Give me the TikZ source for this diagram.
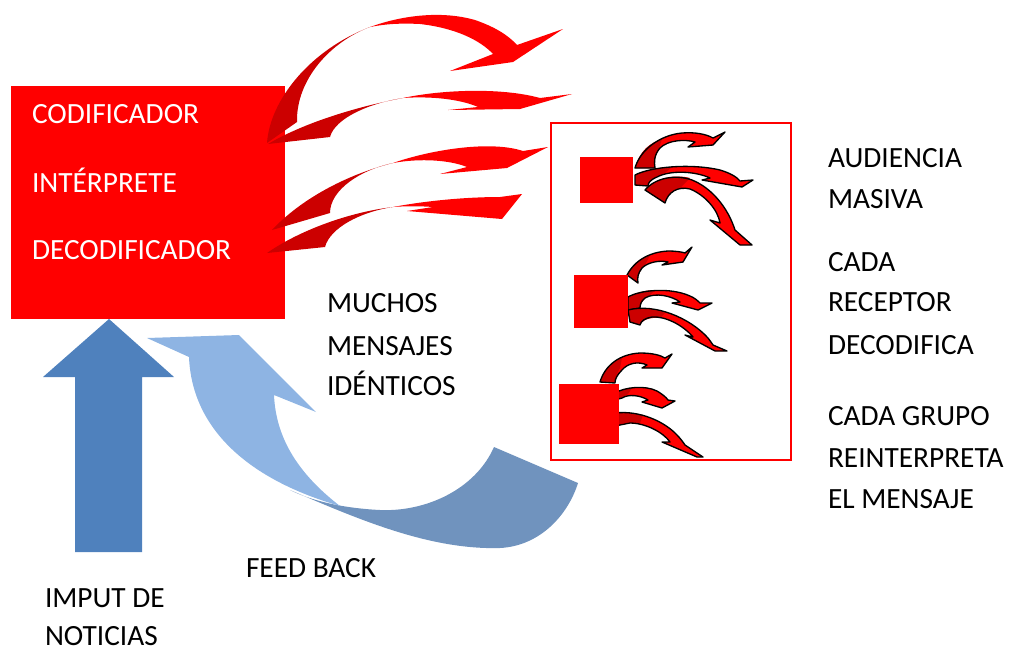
\documentclass[tikz,border=0pt]{standalone}
\usepackage{fontspec}
\setmainfont{Carlito}
\definecolor{rdark}{HTML}{CC0000}
\definecolor{rbright}{HTML}{FF0000}
\definecolor{inblue}{HTML}{4F81BD}
\definecolor{fblight}{HTML}{8EB4E3}
\definecolor{fbdark}{HTML}{7093BE}
\begin{document}
\begin{tikzpicture}[x=0.75pt,y=-0.75pt,
  txt/.style={font=\fontsize{22pt}{26pt}\selectfont, anchor=base west, inner sep=0pt, outer sep=0pt, text depth=0pt},
  wtxt/.style={txt, text=white},
  bright/.style={fill=rbright},
  darkpart/.style={fill=rdark},
  outline/.style={draw=black, line width=1pt, line join=round},
  sq/.style={fill=rbright}]
\useasboundingbox (0,0) rectangle (1013,651);

% ---------- main red box ----------
\fill[rbright] (11,86) rectangle (285,319);
\node[wtxt] (cod) at (32,123) {CODIFICADOR};
\node[wtxt] (int) at (32,192) {INTÉRPRETE};
\node[wtxt] (dec) at (32,259) {DECODIFICADOR};

% ---------- big red arrows ----------
% arrow 4
\fill[darkpart] (267,253) .. controls (300,230) and (350,212) .. (393,207) .. controls (360,212) and (330,228) .. (325,247) -- cycle;
\fill[bright] (393,207) .. controls (430,200) and (470,197) .. (500,197) -- (522,194) -- (502,219) -- (407,211) -- (433,207) .. controls (420,206) and (405,206) .. (393,207) -- cycle;
% arrow 3
\fill[darkpart] (272,230) .. controls (300,200) and (345,175) .. (393,163) .. controls (360,170) and (330,190) .. (330,213) -- cycle;
\fill[bright] (393,163) .. controls (430,150) and (490,140) .. (523,151) -- (548,147) -- (507,168) -- (440,174) -- (467,167) .. controls (450,160) and (420,158) .. (393,163) -- cycle;
% arrow 2
\fill[darkpart] (268,144) .. controls (300,125) and (350,108) .. (403,98) .. controls (370,103) and (335,118) .. (330,137) -- cycle;
\fill[bright] (403,98) .. controls (440,90) and (500,87) .. (540,98) -- (572,94) -- (520,109) -- (448,110) -- (478,107) .. controls (460,99) and (430,96) .. (403,98) -- cycle;
% arrow 1
\fill[darkpart] (267,143) .. controls (270,100) and (310,50) .. (370,27) .. controls (330,42) and (296,80) .. (297,122) -- cycle;
\fill[bright] (370,27) .. controls (400,16) and (440,10) .. (475,20) .. controls (495,27) and (508,35) .. (517,45) -- (563,29) -- (513,62) -- (450,71) -- (493,54) .. controls (480,40) and (455,28) .. (420,24) .. controls (400,23) and (385,24) .. (370,27) -- cycle;

% ---------- receivers box ----------
\draw[rbright, line width=1.4pt] (551,123) rectangle (791,460);

% group 1
\def\aa{(635,168) .. controls (640,150) and (660,135) .. (682,133) .. controls (695,132) and (706,134) .. (713,138) -- (725,132) -- (713,145) -- (688,147) -- (695,142) .. controls (685,139) and (668,140) .. (660,148) .. controls (654,155) and (654,162) .. (655,168) -- cycle}
\fill[bright] \aa;
\fill[darkpart] (635,168) .. controls (640,150) and (650,143) .. (662,139) -- (658,151) .. controls (654,157) and (654,162) .. (655,168) -- cycle;
\draw[outline] \aa;
\def\ab{(635,175) .. controls (650,167) and (690,163) .. (720,170) .. controls (730,173) and (737,177) .. (740,181) -- (753,180) -- (742,187) -- (702,180) -- (710,178) .. controls (695,171) and (670,170) .. (657,177) .. controls (650,180) and (648,183) .. (648,186) -- (635,185) -- cycle}
\fill[bright] \ab;
\fill[darkpart] (635,175) .. controls (645,170) and (660,167) .. (672,167) -- (665,173) .. controls (655,176) and (649,181) .. (648,186) -- (635,185) -- cycle;
\draw[outline] \ab;
\def\ac{(645,190) .. controls (655,178) and (675,174) .. (692,180) .. controls (712,188) and (728,208) .. (735,230) -- (752,245) -- (740,245) -- (710,220) -- (720,223) .. controls (718,210) and (705,195) .. (690,189) .. controls (678,186) and (668,192) .. (665,203) -- cycle}
\fill[bright] \ac;
\fill[darkpart] (645,190) .. controls (655,178) and (675,174) .. (690,178) -- (680,188) .. controls (672,190) and (667,195) .. (665,203) -- cycle;
\draw[outline] \ac;

% group 2
\def\ba{(627,275) .. controls (635,260) and (650,252) .. (668,251) .. controls (676,251) and (682,252) .. (685,253) -- (692,247) -- (683,262) -- (662,265) -- (668,262) .. controls (660,260) and (648,262) .. (642,268) .. controls (638,273) and (637,278) .. (638,283) -- cycle}
\fill[bright] \ba;
\fill[darkpart] (627,275) .. controls (633,264) and (640,258) .. (650,255) -- (645,265) .. controls (639,271) and (637,278) .. (638,283) -- cycle;
\draw[outline] \ba;
\def\bb{(628,297) .. controls (640,290) and (670,287) .. (690,296) .. controls (695,298) and (698,301) .. (700,303) -- (712,303) -- (698,310) -- (672,303) -- (680,302) .. controls (672,296) and (655,292) .. (645,298) .. controls (641,301) and (640,305) .. (640,308) -- (628,310) -- cycle}
\fill[bright] \bb;
\fill[darkpart] (628,297) .. controls (635,293) and (645,290) .. (655,290) -- (650,295) .. controls (643,299) and (640,304) .. (640,308) -- (628,310) -- cycle;
\draw[outline] \bb;
\def\bc{(628,310) .. controls (655,303) and (690,318) .. (708,338) .. controls (710,341) and (712,343) .. (713,345) -- (727,351) -- (715,351) -- (685,335) -- (693,337) .. controls (683,325) and (665,316) .. (652,317) .. controls (645,318) and (641,321) .. (640,325) -- (630,322) -- cycle}
\fill[bright] \bc;
\fill[darkpart] (628,310) .. controls (640,308) and (655,309) .. (665,313) -- (660,318) .. controls (650,317) and (642,320) .. (640,325) -- (630,322) -- cycle;
\draw[outline] \bc;

% group 3
\def\ca{(600,382) .. controls (605,365) and (620,354) .. (640,353) .. controls (652,353) and (660,355) .. (665,358) -- (672,354) -- (662,368) -- (642,368) -- (647,365) .. controls (638,361) and (628,363) .. (622,370) .. controls (617,375) and (615,379) .. (615,383) -- cycle}
\fill[bright] \ca;
\fill[darkpart] (600,382) .. controls (604,370) and (612,362) .. (622,358) -- (620,368) .. controls (617,373) and (615,379) .. (615,383) -- cycle;
\draw[outline] \ca;
\def\cb{(615,393) .. controls (625,387) and (645,385) .. (657,391) .. controls (662,394) and (666,397) .. (668,400) -- (675,401) -- (662,408) -- (642,402) -- (648,400) .. controls (640,395) and (628,394) .. (622,398) -- (615,400) -- cycle}
\fill[bright] \cb;
\fill[darkpart] (615,393) .. controls (620,390) and (626,388) .. (632,388) -- (628,394) .. controls (624,396) and (622,397) .. (622,398) -- (615,400) -- cycle;
\draw[outline] \cb;
\def\cc{(615,413) .. controls (640,410) and (665,422) .. (677,435) .. controls (680,438) and (683,442) .. (685,445) -- (703,457) -- (697,457) -- (662,442) -- (670,442) .. controls (663,432) and (645,423) .. (630,423) -- (615,426) -- cycle}
\fill[bright] \cc;
\fill[darkpart] (615,413) .. controls (625,412) and (635,413) .. (643,415) -- (640,423) .. controls (633,422) and (625,422) .. (615,426) -- cycle;
\draw[outline] \cc;

% receiver squares
\fill[sq] (580,157) rectangle (633,203);
\fill[sq] (574,275) rectangle (628,328);
\fill[sq] (559,384) rectangle (619,444);

% ---------- input arrow ----------
\fill[inblue] (75,552) -- (75,377) -- (43,377) -- (109,319) -- (174,377) -- (142,377) -- (142,552) -- cycle;

% ---------- feedback arrow ----------
\fill[fbdark] (290,490) .. controls (360,520) and (430,550) .. (500,548) .. controls (540,546) and (568,515) .. (578,483) -- (494,447) .. controls (475,490) and (425,512) .. (380,510) .. controls (340,508) and (310,500) .. (290,490) -- cycle;
\fill[fblight] (189,357) -- (147,338) -- (239,335) -- (316,412) -- (274,395) .. controls (276,440) and (300,475) .. (340,506) .. controls (250,480) and (192,430) .. (189,357) -- cycle;

% ---------- texts ----------
\node[txt] (m1) at (327,312) {MUCHOS};
\node[txt] (m2) at (327,355) {MENSAJES};
\node[txt] (m3) at (327,395) {IDÉNTICOS};
\node[txt] (a1) at (828,167) {AUDIENCIA};
\node[txt] (a2) at (828,208) {MASIVA};
\node[txt] (r1) at (828,271) {CADA};
\node[txt] (r2) at (828,311) {RECEPTOR};
\node[txt] (r3) at (828,354) {DECODIFICA};
\node[txt] (g1) at (828,425) {CADA GRUPO};
\node[txt] (g2) at (828,467) {REINTERPRETA};
\node[txt] (g3) at (828,508) {EL MENSAJE};
\node[txt] (fb) at (246,577) {FEED BACK};
\node[txt] (i1) at (45,607) {IMPUT DE};
\node[txt] (i2) at (45,645) {NOTICIAS};
\end{tikzpicture}
\end{document}
